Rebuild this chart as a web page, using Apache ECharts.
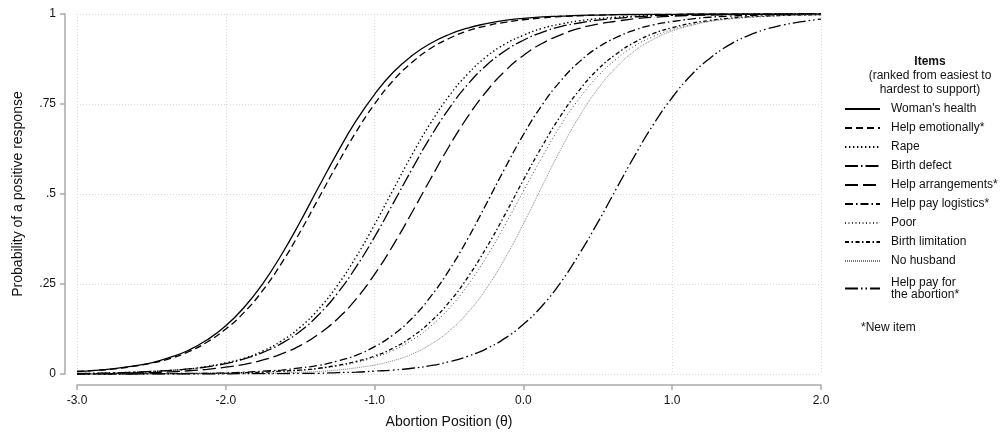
<!DOCTYPE html>
<html>
<head>
<meta charset="utf-8">
<script src="https://cdn.jsdelivr.net/npm/echarts@6/dist/echarts.min.js"></script>
<style>
  html, body { margin: 0; padding: 0; background: #fff; }
  #chart { width: 1007px; height: 437px; }
</style>
</head>
<body>
<div id="chart"></div>
<script>
// Ability scale (theta) at which each item curve is sampled
const theta = [-3, -2.875, -2.75, -2.625, -2.5, -2.375, -2.25, -2.125, -2, -1.875, -1.75, -1.625,
               -1.5, -1.375, -1.25, -1.125, -1, -0.875, -0.75, -0.625, -0.5, -0.375, -0.25, -0.125,
               0, 0.125, 0.25, 0.375, 0.5, 0.625, 0.75, 0.875, 1, 1.125, 1.25, 1.375, 1.5, 1.625,
               1.75, 1.875, 2];

// Probability of a positive response for each item
const womansHealth = [0.007, 0.010, 0.015, 0.022, 0.031, 0.046, 0.066, 0.095, 0.134, 0.186, 0.252, 0.332,
  0.423, 0.520, 0.615, 0.703, 0.777, 0.838, 0.884, 0.918, 0.943, 0.961, 0.973, 0.982,
  0.988, 0.992, 0.994, 0.996, 0.997, 0.998, 0.999, 0.999, 0.999, 1.000, 1.000, 1.000, 1.000, 1.000,
  1.000, 1.000, 1.000];
const helpEmotionally = [0.007, 0.010, 0.014, 0.021, 0.030, 0.043, 0.062, 0.089, 0.125, 0.172, 0.233, 0.308,
  0.395, 0.489, 0.583, 0.672, 0.750, 0.815, 0.865, 0.904, 0.932, 0.953, 0.967, 0.977,
  0.984, 0.989, 0.993, 0.995, 0.997, 0.998, 0.998, 0.999, 0.999, 1.000, 1.000, 1.000, 1.000, 1.000,
  1.000, 1.000, 1.000];
const rape = [0.001, 0.002, 0.003, 0.005, 0.007, 0.010, 0.014, 0.021, 0.031, 0.044, 0.064, 0.092,
  0.130, 0.181, 0.246, 0.325, 0.415, 0.512, 0.608, 0.696, 0.772, 0.833, 0.881, 0.916,
  0.941, 0.960, 0.972, 0.981, 0.987, 0.991, 0.994, 0.996, 0.997, 0.998, 0.999, 0.999, 0.999, 1.000,
  1.000, 1.000, 1.000];
const birthDefect = [0.001, 0.002, 0.003, 0.005, 0.007, 0.010, 0.014, 0.020, 0.029, 0.042, 0.060, 0.085,
  0.119, 0.165, 0.224, 0.297, 0.381, 0.474, 0.568, 0.658, 0.737, 0.804, 0.857, 0.897,
  0.927, 0.949, 0.965, 0.975, 0.983, 0.988, 0.992, 0.995, 0.996, 0.997, 0.998, 0.999, 0.999, 0.999,
  1.000, 1.000, 1.000];
const helpArrangements = [0.001, 0.001, 0.002, 0.003, 0.004, 0.006, 0.009, 0.013, 0.019, 0.027, 0.039, 0.056,
  0.079, 0.111, 0.153, 0.208, 0.277, 0.358, 0.448, 0.541, 0.632, 0.714, 0.784, 0.841,
  0.885, 0.918, 0.942, 0.960, 0.972, 0.980, 0.987, 0.991, 0.994, 0.996, 0.997, 0.998, 0.999, 0.999,
  0.999, 1.000, 1.000];
const helpPayLogistics = [0.000, 0.000, 0.000, 0.000, 0.001, 0.001, 0.002, 0.002, 0.003, 0.005, 0.008, 0.011,
  0.017, 0.024, 0.036, 0.052, 0.076, 0.109, 0.154, 0.214, 0.288, 0.375, 0.472, 0.571,
  0.665, 0.747, 0.814, 0.867, 0.907, 0.935, 0.956, 0.970, 0.979, 0.986, 0.991, 0.994, 0.996, 0.997,
  0.998, 0.999, 0.999];
const poor = [0.000, 0.000, 0.000, 0.000, 0.001, 0.001, 0.001, 0.002, 0.002, 0.003, 0.005, 0.007,
  0.010, 0.015, 0.022, 0.032, 0.046, 0.066, 0.094, 0.132, 0.182, 0.246, 0.324, 0.413,
  0.508, 0.602, 0.690, 0.765, 0.827, 0.875, 0.912, 0.938, 0.957, 0.970, 0.980, 0.986, 0.990, 0.993,
  0.996, 0.997, 0.998];
const birthLimitation = [0.000, 0.000, 0.000, 0.000, 0.001, 0.001, 0.001, 0.002, 0.002, 0.004, 0.005, 0.008,
  0.011, 0.016, 0.024, 0.035, 0.050, 0.072, 0.103, 0.145, 0.199, 0.268, 0.350, 0.442,
  0.539, 0.632, 0.717, 0.788, 0.846, 0.889, 0.922, 0.946, 0.962, 0.974, 0.982, 0.988, 0.992, 0.994,
  0.996, 0.997, 0.998];
const noHusband = [0.000, 0.000, 0.000, 0.000, 0.000, 0.000, 0.000, 0.001, 0.001, 0.001, 0.002, 0.003,
  0.005, 0.007, 0.011, 0.017, 0.025, 0.037, 0.055, 0.082, 0.119, 0.170, 0.237, 0.320,
  0.417, 0.521, 0.623, 0.715, 0.792, 0.852, 0.898, 0.930, 0.953, 0.968, 0.979, 0.986, 0.991, 0.994,
  0.996, 0.997, 0.998];
const helpPayAbortion = [0.000, 0.000, 0.000, 0.000, 0.000, 0.000, 0.000, 0.000, 0.000, 0.001, 0.001, 0.001,
  0.002, 0.002, 0.004, 0.005, 0.008, 0.011, 0.016, 0.023, 0.034, 0.049, 0.070, 0.099,
  0.138, 0.189, 0.254, 0.333, 0.421, 0.515, 0.608, 0.694, 0.768, 0.829, 0.876, 0.912, 0.938, 0.957,
  0.970, 0.979, 0.986];

// Item names, ranked from easiest to hardest to support
const itemNames = [
  "Woman's health", "Help emotionally*", "Rape", "Birth defect", "Help arrangements*",
  "Help pay logistics*", "Poor", "Birth limitation", "No husband", "Help pay for\nthe abortion*"
];
const itemValues = [womansHealth, helpEmotionally, rape, birthDefect, helpArrangements,
                    helpPayLogistics, poor, birthLimitation, noHusband, helpPayAbortion];

// Axis tick labels
const yTickValues = [0, 0.25, 0.5, 0.75, 1];
const yTickLabels = ['0', '.25', '.5', '.75', '1'];
const xTickValues = [-3, -2, -1, 0, 1, 2];
const xTickLabels = ['-3.0', '-2.0', '-1.0', '0.0', '1.0', '2.0'];

// Line pattern for each item curve
const lineStyles = [
  { type: 'solid', width: 1.3, color: '#000' },
  { type: [7, 4], width: 1.3, color: '#000' },
  { type: [1.4, 2.6], width: 1.4, color: '#000' },
  { type: [13, 3, 1.5, 3], width: 1.3, color: '#000' },
  { type: [13, 5], width: 1.3, color: '#000' },
  { type: [8, 3, 1.5, 3], width: 1.3, color: '#000' },
  { type: [1, 2.5], width: 1, color: '#444' },
  { type: [4, 2.5, 1.5, 2.5], width: 1.3, color: '#000' },
  { type: [1, 1], width: 0.9, color: '#777' },
  { type: [13, 3, 1.5, 3, 1.5, 3], width: 1.3, color: '#000' }
];

const FONT = '"Liberation Sans", Arial, Helvetica, sans-serif';
const AXIS_GREY = '#a9a9a9';
const GRID_GREY = '#d9d9d9';

const series = itemNames.map((name, i) => ({
  name: name,
  type: 'line',
  data: theta.map((t, j) => [t, itemValues[i][j]]),
  smooth: 0.5,
  symbol: 'none',
  symbolSize: 0,
  showSymbol: false,
  silent: true,
  lineStyle: Object.assign({ cap: 'butt' }, lineStyles[i]),
  itemStyle: { color: lineStyles[i].color },
  emphasis: { disabled: true }
}));

// Legend entries; the two-line entry gets a little extra room above it
const legendData = itemNames.map(name => name.indexOf('\n') >= 0
  ? { name: name, textStyle: { lineHeight: 12, padding: [5, 0, 0, 6] } }
  : { name: name });

const chart = echarts.init(document.getElementById('chart'), null, { renderer: 'canvas' });

chart.setOption({
  animation: false,
  backgroundColor: '#fff',
  textStyle: { fontFamily: FONT },
  grid: { left: 77, right: 186, top: 14, bottom: 63, containLabel: false },
  xAxis: {
    type: 'value',
    min: -3, max: 2, interval: 1,
    offset: 11,
    name: 'Abortion Position (θ)',
    nameLocation: 'middle',
    nameGap: 30,
    nameTextStyle: { fontSize: 14, color: '#111', fontFamily: FONT },
    axisLine: { show: true, onZero: false, lineStyle: { color: AXIS_GREY, width: 1.5 } },
    axisTick: { show: true, length: 5, lineStyle: { color: AXIS_GREY, width: 1.5 } },
    axisLabel: {
      margin: 10, fontSize: 12, color: '#111', fontFamily: FONT,
      formatter: v => { const k = xTickValues.indexOf(v); return k >= 0 ? xTickLabels[k] : ''; }
    },
    splitLine: { show: true, lineStyle: { color: GRID_GREY, width: 1, type: [1, 2] } }
  },
  yAxis: {
    type: 'value',
    min: 0, max: 1, interval: 0.25,
    offset: 12,
    name: 'Probability of a positive response',
    nameLocation: 'middle',
    nameGap: 40,
    nameTextStyle: { fontSize: 14, color: '#111', fontFamily: FONT },
    axisLine: { show: true, onZero: false, lineStyle: { color: AXIS_GREY, width: 1.5 } },
    axisTick: { show: true, length: 5, lineStyle: { color: AXIS_GREY, width: 1.5 } },
    axisLabel: {
      margin: 9, fontSize: 12, color: '#111', fontFamily: FONT,
      formatter: v => { const k = yTickValues.findIndex(t => Math.abs(t - v) < 1e-9); return k >= 0 ? yTickLabels[k] : ''; }
    },
    splitLine: { show: true, lineStyle: { color: GRID_GREY, width: 1, type: [1, 2] } }
  },
  legend: {
    orient: 'vertical',
    left: 844,
    top: 103,
    itemWidth: 35,
    itemHeight: 12,
    itemGap: 7,
    padding: 0,
    selectedMode: false,
    itemStyle: { opacity: 0 },
    textStyle: { fontSize: 12, color: '#111', fontFamily: FONT, lineHeight: 12, padding: [0, 0, 0, 6] },
    data: legendData
  },
  graphic: [
    { type: 'text', x: 930, y: 62, style: { text: 'Items', align: 'center', verticalAlign: 'middle', fontSize: 12, fontWeight: 'bold', fontFamily: FONT, fill: '#111' } },
    { type: 'text', x: 930, y: 76, style: { text: '(ranked from easiest to', align: 'center', verticalAlign: 'middle', fontSize: 12, fontFamily: FONT, fill: '#111' } },
    { type: 'text', x: 930, y: 90, style: { text: 'hardest to support)', align: 'center', verticalAlign: 'middle', fontSize: 12, fontFamily: FONT, fill: '#111' } },
    { type: 'text', x: 861, y: 328, style: { text: '*New item', align: 'left', verticalAlign: 'middle', fontSize: 12, fontFamily: FONT, fill: '#111' } }
  ],
  series: series
});
</script>
</body>
</html>
